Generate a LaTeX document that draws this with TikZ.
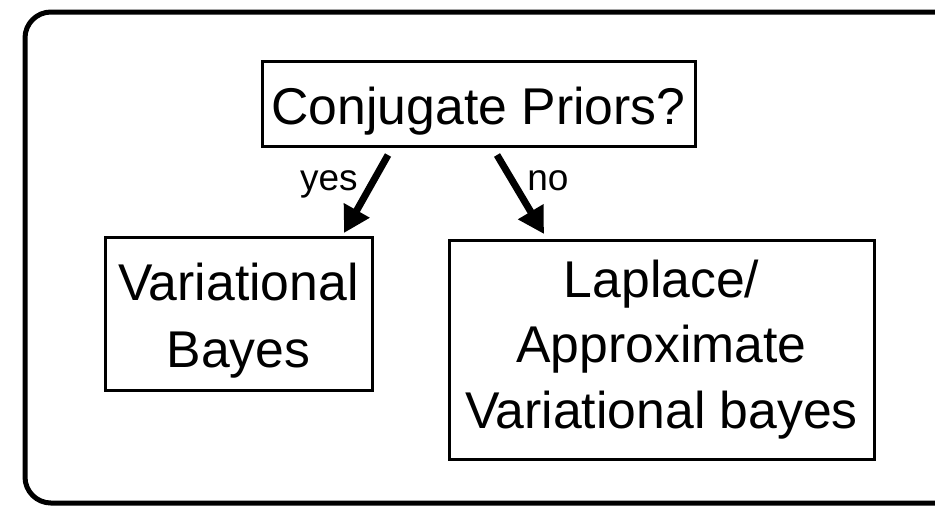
\documentclass[tikz,border=0pt]{standalone}
\usepackage{fontspec}
\setmainfont{Liberation Sans}
\usetikzlibrary{arrows.meta,calc}
\begin{document}
\begin{tikzpicture}[x=0.5pt,y=-0.5pt,
  box/.style={draw, line width=1.5pt, inner sep=0pt, outer sep=0pt},
  txt/.style={font=\fontsize{25.85pt}{31pt}\selectfont, anchor=base, inner sep=0pt},
  branch/.style={font=\fontsize{18.5pt}{22pt}\selectfont, inner sep=0pt},
  flow/.style={line width=3.5pt, -{Triangle[length=13pt,width=14pt]}},
  frame/.style={line width=2.5pt, rounded corners=13pt}]
\useasboundingbox (0,0) rectangle (935,505);
% surrounding frame (runs past the right edge)
\draw[frame] (25,12) rectangle (965,503);

% decision box
\node[box, minimum width=216.5pt, minimum height=42.5pt] (conj) at (478.5,103.5) {};
\node[txt] (conjT) at (478.5,124) {Conjugate Priors?};

% outcome boxes
\node[box, minimum width=133.5pt, minimum height=76.5pt] (vb) at (238.5,313.5) {};
\node[txt] (vbA) at (238.5,300) {Variational};
\node[txt] (vbB) at (238.5,367) {Bayes};

\node[box, minimum width=212.5pt, minimum height=109.5pt] (la) at (661.5,349.5) {};
\node[txt] (laA) at (661.5,297) {Laplace/};
\node[txt] (laB) at (661.5,362) {Approximate};
\node[txt] (laC) at (661.5,428) {Variational bayes};

% branches
\coordinate (yesS) at ($(conj.south)+(-90.5,9)$);
\coordinate (yesE) at ($(vb.north)+(105.5,-4)$);
\coordinate (noS) at ($(conj.south)+(18.5,9)$);
\coordinate (noE) at ($(la.north)+(-117.5,-6)$);
\draw[flow] (yesS) -- (yesE);
\draw[flow] (noS) -- (noE);
\node[branch, anchor=base east] (yes) at (358,190) {yes};
\node[branch, anchor=base west] (no) at (527,190) {no};
\end{tikzpicture}
\end{document}
